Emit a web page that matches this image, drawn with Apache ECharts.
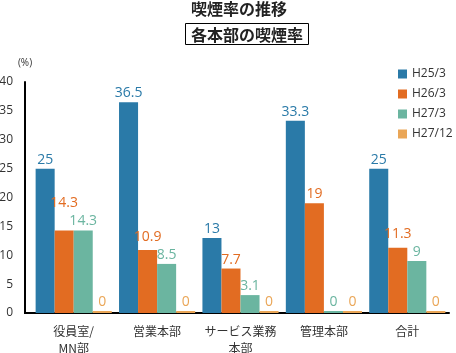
<!DOCTYPE html>
<html><head><meta charset="utf-8">
<script src="https://cdn.jsdelivr.net/npm/echarts@6/dist/echarts.min.js"></script>
<style>html,body{margin:0;padding:0;background:#fff}#c{width:456px;height:353px}</style>
</head><body><div id="c"></div>
<script>
var categories = ['役員室/\nMN部', '営業本部', 'サービス業務\n本部', '管理本部', '合計'];
var seriesNames = ['H25/3', 'H26/3', 'H27/3', 'H27/12'];
var h25_3 = [25, 36.5, 13, 33.3, 25];
var h26_3 = [14.3, 10.9, 7.7, 19, 11.3];
var h27_3 = [14.3, 8.5, 3.1, 0, 9];
var h27_12 = [0, 0, 0, 0, 0];
var yTicks = [0, 5, 10, 15, 20, 25, 30, 35, 40];
var colors = ['#2a7aa8', '#e26c22', '#6bb5a0', '#eaa657'];
var FONT = '"Noto Sans CJK JP", "Noto Sans", sans-serif';
var NUMFONT = '"Open Sans", "DejaVu Sans", sans-serif';
var LABEL_SIZE = 14;

var chart = echarts.init(document.getElementById('c'), null, {renderer: 'canvas'});
var dataSets = [h25_3, h26_3, h27_3, h27_12];
var shifts = dataSets.map(function (d) { return d.map(function () { return 0; }); });
var series = dataSets.map(function (d, i) {
  return {
    name: seriesNames[i], type: 'bar', data: d, barGap: '0%', barCategoryGap: '8.7%',
    barMinHeight: 2,
    itemStyle: {color: colors[i]},
    label: {show: true, position: 'top', distance: 2, color: colors[i], fontSize: LABEL_SIZE, fontFamily: NUMFONT},
    labelLayout: function (p) { return {dy: shifts[p.seriesIndex][p.dataIndex]}; }
  };
});
chart.setOption({
  animation: false,
  textStyle: {fontFamily: FONT},
  title: [
    {text: '喫煙率の推移', left: 191, top: 0, padding: 0,
     textStyle: {fontSize: 16, lineHeight: 18, fontWeight: 'bold', color: '#222', fontFamily: FONT}},
    {text: '各本部の喫煙率', left: 185, top: 23, padding: [3, 6, 2, 6], borderColor: '#000', borderWidth: 1,
     textStyle: {fontSize: 16, lineHeight: 17, fontWeight: 'bold', color: '#222', fontFamily: FONT}}
  ],
  legend: {
    orient: 'vertical', left: 393, top: 63, itemWidth: 9, itemHeight: 9, itemGap: 8,
    icon: 'rect', data: seriesNames,
    textStyle: {fontSize: 12, color: '#333', fontFamily: NUMFONT}
  },
  grid: {left: 32, right: 7, top: 82, bottom: 40, outerBoundsMode: 'none', containLabel: false},
  xAxis: {
    type: 'category', data: categories,
    axisLine: {lineStyle: {color: '#000', width: 2}},
    axisTick: {show: false},
    axisLabel: {interval: 0, fontSize: 12, color: '#333', margin: 10, lineHeight: 17, fontFamily: FONT}
  },
  yAxis: {
    type: 'value', min: 0, max: 40, interval: 5, offset: 7,
    name: '(%)', nameLocation: 'end', nameGap: 14,
    nameTextStyle: {fontSize: 10, color: '#333', align: 'center', fontFamily: NUMFONT},
    axisLine: {show: true, lineStyle: {color: '#000', width: 2}},
    axisTick: {show: false},
    splitLine: {show: false},
    axisLabel: {fontSize: 12, color: '#333', margin: 12, fontFamily: NUMFONT,
      formatter: function (v) { return yTicks.indexOf(v) >= 0 ? String(v) : ''; }}
  },
  graphic: [{type: 'line', shape: {x1: 24, y1: 313, x2: 34, y2: 313}, style: {stroke: '#000', lineWidth: 2}, z: 10}],
  series: series
});

// Lift a label above its right neighbour's label when the two would collide.
var ctx = document.createElement('canvas').getContext('2d');
ctx.font = LABEL_SIZE + 'px ' + NUMFONT;
var barW = 15, minGap = 18;
for (var c = 0; c < categories.length; c++) {
  var ys = dataSets.map(function (d) { return chart.convertToPixel({gridIndex: 0}, [c, d[c]])[1]; });
  for (var s = dataSets.length - 2; s >= 0; s--) {
    var wA = ctx.measureText(String(dataSets[s][c])).width;
    var wB = ctx.measureText(String(dataSets[s + 1][c])).width;
    if ((wA + wB) / 2 <= barW) continue;
    var yA = ys[s] + shifts[s][c];
    var yB = ys[s + 1] + shifts[s + 1][c];
    if (yB - yA < minGap) shifts[s][c] = (yB - minGap) - ys[s];
  }
}
chart.setOption({series: series.map(function () { return {}; })});
chart.resize();
</script></body></html>
